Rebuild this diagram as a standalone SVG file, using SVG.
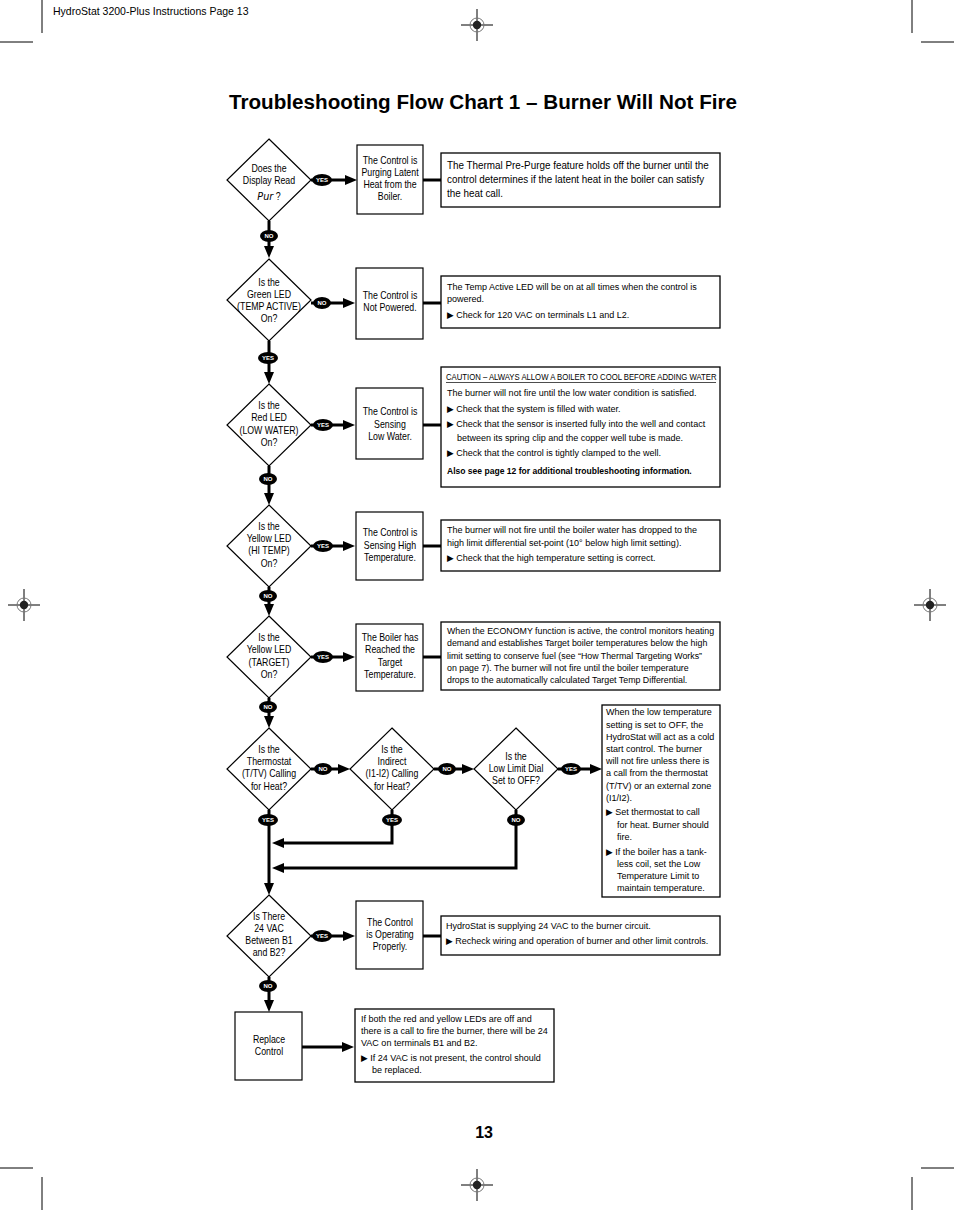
<svg xmlns="http://www.w3.org/2000/svg" width="954" height="1210" viewBox="0 0 954 1210">
<style>
.t{font-family:"Liberation Sans",Arial,Helvetica,sans-serif;fill:#000}
.d{font-size:10px;text-anchor:middle}
.i{font-size:9.4px}
.shape{fill:#fff;stroke:#000;stroke-width:1.2}
.info{fill:#fff;stroke:#000;stroke-width:1.3}
.c{fill:none;stroke:#000;stroke-width:3}
.bd{fill:#000}
.bt{font-family:"Liberation Sans",Arial,sans-serif;font-size:6px;font-weight:bold;fill:#fff;text-anchor:middle}
.crop{stroke:#000;stroke-width:1}
.blt{font-family:"DejaVu Sans",sans-serif;font-size:9px}
</style>
<defs>
<marker id="ah" markerUnits="userSpaceOnUse" markerWidth="13" markerHeight="10" refX="4" refY="5" orient="auto">
<path d="M0,0 L12,5 L0,10 z" fill="#000"/>
</marker>
<g id="reg">
<line x1="-16" y1="0" x2="16" y2="0" class="crop"/>
<line x1="0" y1="-16" x2="0" y2="16" class="crop"/>
<circle r="7" fill="none" stroke="#777" stroke-width="1"/>
<circle r="4.2" fill="#222"/>
</g>
</defs>
<rect width="954" height="1210" fill="#fff"/>

<g id="page-marks">
<line x1="42" y1="0" x2="42" y2="33" class="crop"/>
<line x1="0" y1="42" x2="33" y2="42" class="crop"/>
<line x1="912" y1="0" x2="912" y2="33" class="crop"/>
<line x1="921" y1="42" x2="954" y2="42" class="crop"/>
<line x1="42" y1="1177" x2="42" y2="1210" class="crop"/>
<line x1="0" y1="1168" x2="33" y2="1168" class="crop"/>
<line x1="912" y1="1177" x2="912" y2="1210" class="crop"/>
<line x1="921" y1="1168" x2="954" y2="1168" class="crop"/>
<use href="#reg" x="477" y="25"/>
<use href="#reg" x="477" y="1185"/>
<use href="#reg" x="24" y="605"/>
<use href="#reg" x="930" y="605"/>
<text class="t" x="53" y="15" font-size="10.5">HydroStat 3200-Plus Instructions Page 13</text>
<text class="t" x="483" y="109" font-size="20" font-weight="bold" text-anchor="middle" textLength="508" lengthAdjust="spacingAndGlyphs">Troubleshooting Flow Chart 1 – Burner Will Not Fire</text>
<text class="t" x="493" y="1138" font-size="16" font-weight="bold" text-anchor="end">13</text>
</g>

<g id="connectors">
<path class="c" d="M311,180 H349" marker-end="url(#ah)"/>
<path class="c" d="M423,180 H441"/>
<path class="c" d="M269,221 V250" marker-end="url(#ah)"/>
<path class="c" d="M311,303 H347" marker-end="url(#ah)"/>
<path class="c" d="M423,303 H441"/>
<path class="c" d="M269,341 V376" marker-end="url(#ah)"/>
<path class="c" d="M311,425 H347" marker-end="url(#ah)"/>
<path class="c" d="M423,425 H441"/>
<path class="c" d="M269,466 V497" marker-end="url(#ah)"/>
<path class="c" d="M311,546 H347" marker-end="url(#ah)"/>
<path class="c" d="M423,546 H441"/>
<path class="c" d="M269,587 V608" marker-end="url(#ah)"/>
<path class="c" d="M311,657 H347" marker-end="url(#ah)"/>
<path class="c" d="M423,657 H441"/>
<path class="c" d="M269,698 V720" marker-end="url(#ah)"/>
<path class="c" d="M311,769 H342" marker-end="url(#ah)"/>
<path class="c" d="M434,769 H466" marker-end="url(#ah)"/>
<path class="c" d="M558,769 H594" marker-end="url(#ah)"/>
<path class="c" d="M269,810 V887" marker-end="url(#ah)"/>
<path class="c" d="M392,810 V843 H280" marker-end="url(#ah)"/>
<path class="c" d="M516,810 V868 H280" marker-end="url(#ah)"/>
<path class="c" d="M311,936 H347" marker-end="url(#ah)"/>
<path class="c" d="M423,936 H441"/>
<path class="c" d="M269,977 V1004" marker-end="url(#ah)"/>
<path class="c" d="M302,1047 H346" marker-end="url(#ah)"/>

<ellipse class="bd" cx="322" cy="180" rx="10" ry="6"/><text class="bt" x="322" y="182">YES</text>
<ellipse class="bd" cx="269" cy="236" rx="9" ry="6"/><text class="bt" x="269" y="238">NO</text>
<ellipse class="bd" cx="322" cy="303" rx="9" ry="6"/><text class="bt" x="322" y="305">NO</text>
<ellipse class="bd" cx="268" cy="358" rx="10" ry="6"/><text class="bt" x="268" y="360">YES</text>
<ellipse class="bd" cx="323" cy="425" rx="10" ry="6"/><text class="bt" x="323" y="427">YES</text>
<ellipse class="bd" cx="268" cy="479" rx="9" ry="6"/><text class="bt" x="268" y="481">NO</text>
<ellipse class="bd" cx="323" cy="546" rx="10" ry="6"/><text class="bt" x="323" y="548">YES</text>
<ellipse class="bd" cx="268" cy="596" rx="9" ry="6"/><text class="bt" x="268" y="598">NO</text>
<ellipse class="bd" cx="323" cy="657" rx="10" ry="6"/><text class="bt" x="323" y="659">YES</text>
<ellipse class="bd" cx="268" cy="707" rx="9" ry="6"/><text class="bt" x="268" y="709">NO</text>
<ellipse class="bd" cx="323" cy="769" rx="9" ry="6"/><text class="bt" x="323" y="771">NO</text>
<ellipse class="bd" cx="447" cy="769" rx="9" ry="6"/><text class="bt" x="447" y="771">NO</text>
<ellipse class="bd" cx="571" cy="769" rx="10" ry="6"/><text class="bt" x="571" y="771">YES</text>
<ellipse class="bd" cx="268" cy="820" rx="10" ry="6"/><text class="bt" x="268" y="822">YES</text>
<ellipse class="bd" cx="392" cy="820" rx="10" ry="6"/><text class="bt" x="392" y="822">YES</text>
<ellipse class="bd" cx="516" cy="820" rx="9" ry="6"/><text class="bt" x="516" y="822">NO</text>
<ellipse class="bd" cx="322" cy="936" rx="10" ry="6"/><text class="bt" x="322" y="938">YES</text>
<ellipse class="bd" cx="268" cy="986" rx="9" ry="6"/><text class="bt" x="268" y="988">NO</text>
</g>

<g id="d1">
<polygon class="shape" points="269,139 311,180 269,221 227,180"/>
<g transform="translate(269 0) scale(0.88 1)"><text class="t d"><tspan x="0" y="172">Does the</tspan><tspan x="0" y="184">Display Read</tspan></text>
<text class="t d" x="0" y="200"><tspan font-family="DejaVu Sans, sans-serif" font-style="italic" font-size="11">Pur</tspan> ?</text></g>
</g>
<g id="b1">
<rect class="shape" x="357" y="145" width="66" height="69"/>
<g transform="translate(390 0) scale(0.88 1)"><text class="t d"><tspan x="0" y="164">The Control is</tspan><tspan x="0" y="176">Purging Latent</tspan><tspan x="0" y="188">Heat from the</tspan><tspan x="0" y="200">Boiler.</tspan></text></g>
</g>
<g id="i1">
<rect class="info" x="441" y="153" width="279" height="54"/>
<g transform="translate(447 0) scale(0.95 1)"><text class="t" font-size="10.4"><tspan x="0" y="169">The Thermal Pre-Purge feature holds off the burner until the</tspan><tspan x="0" y="183">control determines if the latent heat in the boiler can satisfy</tspan><tspan x="0" y="197">the heat call.</tspan></text></g>
</g>

<g id="d2">
<polygon class="shape" points="269,259 311,300 269,341 227,300"/>
<g transform="translate(269 0) scale(0.88 1)"><text class="t d"><tspan x="0" y="286">Is the</tspan><tspan x="0" y="298">Green LED</tspan><tspan x="0" y="310">(TEMP ACTIVE)</tspan><tspan x="0" y="322">On?</tspan></text></g>
</g>
<g id="b2">
<rect class="shape" x="356" y="268" width="67" height="71"/>
<g transform="translate(390 0) scale(0.88 1)"><text class="t d"><tspan x="0" y="299">The Control is</tspan><tspan x="0" y="311">Not Powered.</tspan></text></g>
</g>
<g id="i2">
<rect class="info" x="441" y="276" width="279" height="52"/>
<g transform="translate(447 0) scale(0.96 1)"><text class="t i"><tspan x="0" y="290">The Temp Active LED will be on at all times when the control is</tspan><tspan x="0" y="302">powered.</tspan><tspan x="0" y="318"><tspan class="blt">▶</tspan> Check for 120 VAC on terminals L1 and L2.</tspan></text></g>
</g>

<g id="d3">
<polygon class="shape" points="269,384 311,425 269,466 227,425"/>
<g transform="translate(269 0) scale(0.88 1)"><text class="t d"><tspan x="0" y="409">Is the</tspan><tspan x="0" y="421">Red LED</tspan><tspan x="0" y="434">(LOW WATER)</tspan><tspan x="0" y="446">On?</tspan></text></g>
</g>
<g id="b3">
<rect class="shape" x="356" y="388" width="67" height="71"/>
<g transform="translate(390 0) scale(0.88 1)"><text class="t d"><tspan x="0" y="415">The Control is</tspan><tspan x="0" y="428">Sensing</tspan><tspan x="0" y="440">Low Water.</tspan></text></g>
</g>
<g id="i3">
<rect class="info" x="441" y="367" width="279" height="120"/>
<line x1="446" y1="382.5" x2="716" y2="382.5" stroke="#000" stroke-width="0.7"/>
<g transform="translate(446 0) scale(0.88 1)"><text class="t" font-size="8.8" x="0" y="380">CAUTION – ALWAYS ALLOW A BOILER TO COOL BEFORE ADDING WATER</text></g>
<g transform="translate(447 0) scale(0.96 1)"><text class="t i"><tspan x="0" y="396">The burner will not fire until the low water condition is satisfied.</tspan><tspan x="0" y="412"><tspan class="blt">▶</tspan> Check that the system is filled with water.</tspan><tspan x="0" y="427"><tspan class="blt">▶</tspan> Check that the sensor is inserted fully into the well and contact</tspan><tspan x="10.4" y="441">between its spring clip and the copper well tube is made.</tspan><tspan x="0" y="456"><tspan class="blt">▶</tspan> Check that the control is tightly clamped to the well.</tspan></text></g>
<g transform="translate(447 0) scale(0.91 1)"><text class="t i" x="0" y="474" font-weight="bold">Also see page 12 for additional troubleshooting information.</text></g>
</g>

<g id="d4">
<polygon class="shape" points="269,505 311,546 269,587 227,546"/>
<g transform="translate(269 0) scale(0.88 1)"><text class="t d"><tspan x="0" y="530">Is the</tspan><tspan x="0" y="542">Yellow LED</tspan><tspan x="0" y="554">(HI TEMP)</tspan><tspan x="0" y="567">On?</tspan></text></g>
</g>
<g id="b4">
<rect class="shape" x="356" y="512" width="67" height="68"/>
<g transform="translate(390 0) scale(0.88 1)"><text class="t d"><tspan x="0" y="536">The Control is</tspan><tspan x="0" y="549">Sensing High</tspan><tspan x="0" y="561">Temperature.</tspan></text></g>
</g>
<g id="i4">
<rect class="info" x="441" y="520" width="279" height="51"/>
<g transform="translate(447 0) scale(0.96 1)"><text class="t i"><tspan x="0" y="533">The burner will not fire until the boiler water has dropped to the</tspan><tspan x="0" y="546">high limit differential set-point (10° below high limit setting).</tspan><tspan x="0" y="561"><tspan class="blt">▶</tspan> Check that the high temperature setting is correct.</tspan></text></g>
</g>

<g id="d5">
<polygon class="shape" points="269,616 311,657 269,698 227,657"/>
<g transform="translate(269 0) scale(0.88 1)"><text class="t d"><tspan x="0" y="641">Is the</tspan><tspan x="0" y="653">Yellow LED</tspan><tspan x="0" y="666">(TARGET)</tspan><tspan x="0" y="678">On?</tspan></text></g>
</g>
<g id="b5">
<rect class="shape" x="356" y="624" width="67" height="67"/>
<g transform="translate(390 0) scale(0.88 1)"><text class="t d"><tspan x="0" y="641">The Boiler has</tspan><tspan x="0" y="653">Reached the</tspan><tspan x="0" y="666">Target</tspan><tspan x="0" y="678">Temperature.</tspan></text></g>
</g>
<g id="i5">
<rect class="info" x="441" y="622" width="279" height="68"/>
<g transform="translate(447 0) scale(0.94 1)"><text class="t i"><tspan x="0" y="634">When the ECONOMY function is active, the control monitors heating</tspan><tspan x="0" y="646">demand and establishes Target boiler temperatures below the high</tspan><tspan x="0" y="659">limit setting to conserve fuel (see “How Thermal Targeting Works”</tspan><tspan x="0" y="671">on page 7). The burner will not fire until the boiler temperature</tspan><tspan x="0" y="683">drops to the automatically calculated Target Temp Differential.</tspan></text></g>
</g>

<g id="d6">
<polygon class="shape" points="269,728 311,769 269,810 227,769"/>
<g transform="translate(269 0) scale(0.88 1)"><text class="t d"><tspan x="0" y="753">Is the</tspan><tspan x="0" y="765">Thermostat</tspan><tspan x="0" y="777">(T/TV) Calling</tspan><tspan x="0" y="790">for Heat?</tspan></text></g>
</g>
<g id="d7">
<polygon class="shape" points="392,728 434,769 392,810 350,769"/>
<g transform="translate(392 0) scale(0.88 1)"><text class="t d"><tspan x="0" y="753">Is the</tspan><tspan x="0" y="765">Indirect</tspan><tspan x="0" y="777">(I1-I2) Calling</tspan><tspan x="0" y="790">for Heat?</tspan></text></g>
</g>
<g id="d8">
<polygon class="shape" points="516,728 558,769 516,810 474,769"/>
<g transform="translate(516 0) scale(0.88 1)"><text class="t d"><tspan x="0" y="760">Is the</tspan><tspan x="0" y="772">Low Limit Dial</tspan><tspan x="0" y="784">Set to OFF?</tspan></text></g>
</g>
<g id="i6">
<rect class="info" x="602" y="705" width="118" height="192"/>
<g transform="translate(606 0) scale(0.96 1)"><text class="t i"><tspan x="0" y="715">When the low temperature</tspan><tspan x="0" y="728">setting is set to OFF, the</tspan><tspan x="0" y="740">HydroStat will act as a cold</tspan><tspan x="0" y="752">start control. The burner</tspan><tspan x="0" y="764">will not fire unless there is</tspan><tspan x="0" y="776">a call from the thermostat</tspan><tspan x="0" y="789">(T/TV) or an external zone</tspan><tspan x="0" y="801">(I1/I2).</tspan><tspan x="0" y="815"><tspan class="blt">▶</tspan> Set thermostat to call</tspan><tspan x="11.5" y="828">for heat. Burner should</tspan><tspan x="11.5" y="840">fire.</tspan><tspan x="0" y="855"><tspan class="blt">▶</tspan> If the boiler has a tank-</tspan><tspan x="11.5" y="867">less coil, set the Low</tspan><tspan x="11.5" y="879">Temperature Limit to</tspan><tspan x="11.5" y="891">maintain temperature.</tspan></text></g>
</g>

<g id="d9">
<polygon class="shape" points="269,895 311,936 269,977 227,936"/>
<g transform="translate(269 0) scale(0.88 1)"><text class="t d"><tspan x="0" y="920">Is There</tspan><tspan x="0" y="932">24 VAC</tspan><tspan x="0" y="944">Between B1</tspan><tspan x="0" y="956">and B2?</tspan></text></g>
</g>
<g id="b6">
<rect class="shape" x="356" y="901" width="67" height="68"/>
<g transform="translate(390 0) scale(0.88 1)"><text class="t d"><tspan x="0" y="926">The Control</tspan><tspan x="0" y="938">is Operating</tspan><tspan x="0" y="950">Properly.</tspan></text></g>
</g>
<g id="i7">
<rect class="info" x="441" y="916" width="279" height="39"/>
<g transform="translate(446 0) scale(0.96 1)"><text class="t i"><tspan x="0" y="929">HydroStat is supplying 24 VAC to the burner circuit.</tspan><tspan x="0" y="944"><tspan class="blt">▶</tspan> Recheck wiring and operation of burner and other limit controls.</tspan></text></g>
</g>

<g id="b7">
<rect class="shape" x="235" y="1012" width="67" height="68"/>
<g transform="translate(269 0) scale(0.88 1)"><text class="t d"><tspan x="0" y="1043">Replace</tspan><tspan x="0" y="1055">Control</tspan></text></g>
</g>
<g id="i8">
<rect class="info" x="355" y="1009" width="199" height="73"/>
<g transform="translate(361 0) scale(0.96 1)"><text class="t i"><tspan x="0" y="1022">If both the red and yellow LEDs are off and</tspan><tspan x="0" y="1034">there is a call to fire the burner, there will be 24</tspan><tspan x="0" y="1046">VAC on terminals B1 and B2.</tspan><tspan x="0" y="1061"><tspan class="blt">▶</tspan> If 24 VAC is not present, the control should</tspan><tspan x="11.5" y="1073">be replaced.</tspan></text></g>
</g>
</svg>
